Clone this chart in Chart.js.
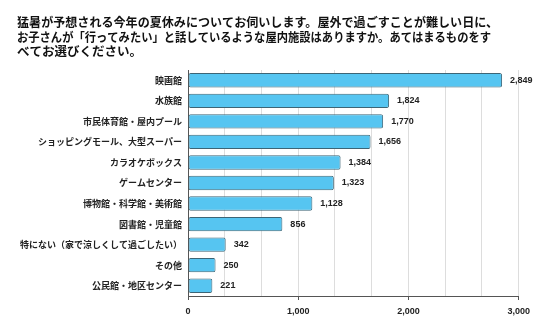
<!DOCTYPE html>
<html>
<head>
<meta charset="utf-8">
<script src="https://cdn.jsdelivr.net/npm/chart.js@4"></script>
<style>
  html, body { margin: 0; padding: 0; background: #fff; }
  #wrap { width: 536px; height: 332px; }
</style>
</head>
<body>
<div id="wrap"><canvas id="myChart" width="536" height="332"></canvas></div>
<script>
const titleLines = [
  "猛暑が予想される今年の夏休みについてお伺いします。屋外で過ごすことが難しい日に、",
  "お子さんが「行ってみたい」と話しているような屋内施設はありますか。あてはまるものをす",
  "べてお選びください。",
];

const labels = [
  "映画館",
  "水族館",
  "市民体育館・屋内プール",
  "ショッピングモール、大型スーパー",
  "カラオケボックス",
  "ゲームセンター",
  "博物館・科学館・美術館",
  "図書館・児童館",
  "特にない（家で涼しくして過ごしたい）",
  "その他",
  "公民館・地区センター",
];

const values = [2849, 1824, 1770, 1656, 1384, 1323, 1128, 856, 342, 250, 221];

// grid every 1/3 of 1000, labels only on the thousands
const tickLabels = [0, 1000, 2000, 3000];
const gridValues = [];
for (let i = 0; i <= 9; i++) gridValues.push((i * 1000) / 3);

const jpFont = "'Noto Sans CJK JP', 'Noto Sans', sans-serif";
const numFont = "'Liberation Sans', Arial, sans-serif";

const isLabelTick = (v) => tickLabels.some((t) => Math.abs(t - v) < 0.001);

// タイトル
const titlePlugin = {
  id: "titleText",
  afterDraw(chart) {
    const ctx = chart.ctx;
    ctx.save();
    ctx.fillStyle = "#111";
    ctx.font = "bold 12.5px " + jpFont;
    ctx.textBaseline = "middle";
    ctx.textAlign = "left";
    const ys = [22, 37, 51];
    const maxW = [481, 474, 200];
    titleLines.forEach((t, i) => ctx.fillText(t, 17, ys[i], maxW[i]));
    ctx.restore();
  },
};

// 数値ラベル
const valueLabels = {
  id: "valueLabels",
  afterDatasetsDraw(chart) {
    const ctx = chart.ctx;
    const meta = chart.getDatasetMeta(0);
    ctx.save();
    ctx.fillStyle = "#222";
    ctx.font = "bold 9px " + numFont;
    ctx.textBaseline = "middle";
    ctx.textAlign = "left";
    meta.data.forEach((bar, i) => {
      ctx.fillText(values[i].toLocaleString("en-US"), bar.x + 8, bar.y);
    });
    ctx.restore();
  },
};

const data = {
  labels: labels,
  datasets: [
    {
      data: values,
      backgroundColor: "#56c5f1",
      borderColor: "#3c6576",
      borderWidth: 1,
      borderRadius: 2,
      borderSkipped: false,
      barPercentage: 0.7,
      categoryPercentage: 1,
    },
  ],
};

const config = {
  type: "bar",
  data: data,
  options: {
    indexAxis: "y",
    responsive: false,
    animation: false,
    layout: { padding: { top: 70, right: 17, left: 0, bottom: 0 } },
    plugins: {
      legend: { display: false },
      title: { display: false },
      tooltip: { enabled: false },
    },
    scales: {
      x: {
        min: 0,
        max: 3000,
        afterBuildTicks: (axis) => {
          axis.ticks = gridValues.map((v) => ({ value: v }));
        },
        afterFit: (scale) => {
          scale.height = 36;
        },
        grid: {
          color: (c) => (c.index === 0 ? "rgba(0,0,0,0)" : "#dddddd"),
          lineWidth: 1,
          drawTicks: true,
          tickLength: 4,
          tickColor: (c) => (c.tick && isLabelTick(c.tick.value) ? "#555" : "rgba(0,0,0,0)"),
        },
        border: { color: "#555", width: 1 },
        ticks: {
          autoSkip: false,
          maxRotation: 0,
          padding: 6,
          color: "#222",
          font: { family: numFont, size: 9, weight: "bold" },
          callback: (v) => (isLabelTick(v) ? Math.round(v).toLocaleString("en-US") : ""),
        },
      },
      y: {
        afterFit: (scale) => {
          scale.width = 188;
        },
        grid: { display: false },
        border: { color: "#555", width: 1 },
        ticks: {
          padding: -2,
          color: "#222",
          font: { family: jpFont, size: 9, weight: "bold" },
        },
      },
    },
  },
  plugins: [titlePlugin, valueLabels],
};

const myChart = new Chart(document.getElementById("myChart"), config);
</script>
</body>
</html>
